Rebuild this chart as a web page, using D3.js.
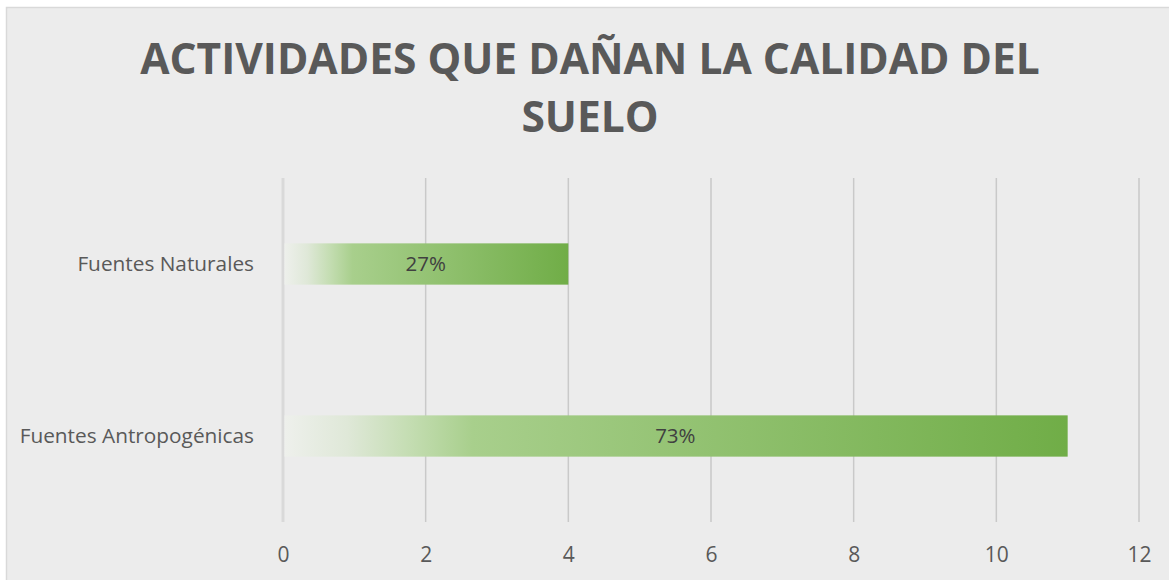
<!DOCTYPE html>
<html>
<head>
<meta charset="utf-8">
<script src="https://cdn.jsdelivr.net/npm/d3@7"></script>
<style>
  body { margin: 0; background: #fff; }
  text { font-family: "Open Sans", sans-serif; }
</style>
</head>
<body>
<div id="chart"></div>
<script>
// data
const categories = ["Fuentes Naturales", "Fuentes Antropogénicas"];
const values = [4, 11];
const labels = ["27%", "73%"];
const ticks = [0, 2, 4, 6, 8, 10, 12];
const titleLines = ["ACTIVIDADES QUE DAÑAN LA CALIDAD DEL", "SUELO"];

const W = 1169, H = 580;
const plotL = 283, plotR = 1139, plotT = 178, plotB = 522;

const svg = d3.select("#chart").append("svg")
  .attr("width", W)
  .attr("height", H);

// chart background + border
svg.append("rect")
  .attr("x", 6.5).attr("y", 7.5)
  .attr("width", W).attr("height", H)
  .attr("fill", "#ececec")
  .attr("stroke", "#d9d9d9")
  .attr("stroke-width", 1.5);

const grad = svg.append("defs").append("linearGradient")
  .attr("id", "barGrad")
  .attr("x1", "0%").attr("x2", "100%").attr("y1", "0%").attr("y2", "0%");
grad.append("stop").attr("offset", "0%").attr("stop-color", "#eef0ec");
grad.append("stop").attr("offset", "8%").attr("stop-color", "#dfe8d8");
grad.append("stop").attr("offset", "16%").attr("stop-color", "#c4ddb2");
grad.append("stop").attr("offset", "24%").attr("stop-color", "#a8cf8c");
grad.append("stop").attr("offset", "100%").attr("stop-color", "#70ad47");

const x = d3.scaleLinear().domain([0, 12]).range([plotL, plotR]);
const y = d3.scaleBand().domain(categories).range([plotT, plotB])
  .paddingInner(0.76).paddingOuter(0.38);

// title
svg.append("text")
  .attr("x", 590).attr("y", 74)
  .attr("text-anchor", "middle")
  .attr("font-size", 42.5)
  .attr("font-weight", "bold")
  .attr("fill", "#595959")
  .selectAll("tspan")
  .data(titleLines)
  .join("tspan")
  .attr("x", 590)
  .attr("dy", (d, i) => i === 0 ? 0 : 58)
  .text(d => d);

// gridlines
svg.append("g")
  .selectAll("line")
  .data(ticks)
  .join("line")
  .attr("x1", d => x(d)).attr("x2", d => x(d))
  .attr("y1", plotT).attr("y2", plotB)
  .attr("stroke", d => d === 0 ? "#d9d9d9" : "#c9c9c9")
  .attr("stroke-width", d => d === 0 ? 3 : 1.5);

// x axis labels
const xAxis = d3.axisBottom(x).tickValues(ticks).tickSize(0).tickPadding(0);
const gx = svg.append("g")
  .attr("transform", "translate(0," + 562 + ")")
  .call(xAxis);
gx.select(".domain").remove();
gx.selectAll("text")
  .attr("font-family", "Open Sans")
  .attr("font-size", 21)
  .attr("fill", "#595959")
  .attr("dy", 0)
  .attr("y", 0);

// category labels
const yAxis = d3.axisLeft(y).tickSize(0).tickPadding(0);
const gy = svg.append("g")
  .attr("transform", "translate(" + 254 + ",0)")
  .call(yAxis);
gy.select(".domain").remove();
gy.selectAll("text")
  .attr("font-family", "Open Sans")
  .attr("font-size", 20.8)
  .attr("fill", "#595959");

// bars
svg.append("g")
  .selectAll("rect")
  .data(values)
  .join("rect")
  .attr("x", x(0) + 1.5)
  .attr("y", (d, i) => y(categories[i]))
  .attr("width", d => x(d) - x(0) - 1.5)
  .attr("height", y.bandwidth())
  .attr("fill", "url(#barGrad)");

// data labels
svg.append("g")
  .selectAll("text")
  .data(values)
  .join("text")
  .attr("x", d => (x(0) + x(d)) / 2)
  .attr("y", (d, i) => y(categories[i]) + y.bandwidth() / 2)
  .attr("dy", "0.35em")
  .attr("text-anchor", "middle")
  .attr("font-size", 20.5)
  .attr("fill", "#404040")
  .text((d, i) => labels[i]);
</script>
</body>
</html>
